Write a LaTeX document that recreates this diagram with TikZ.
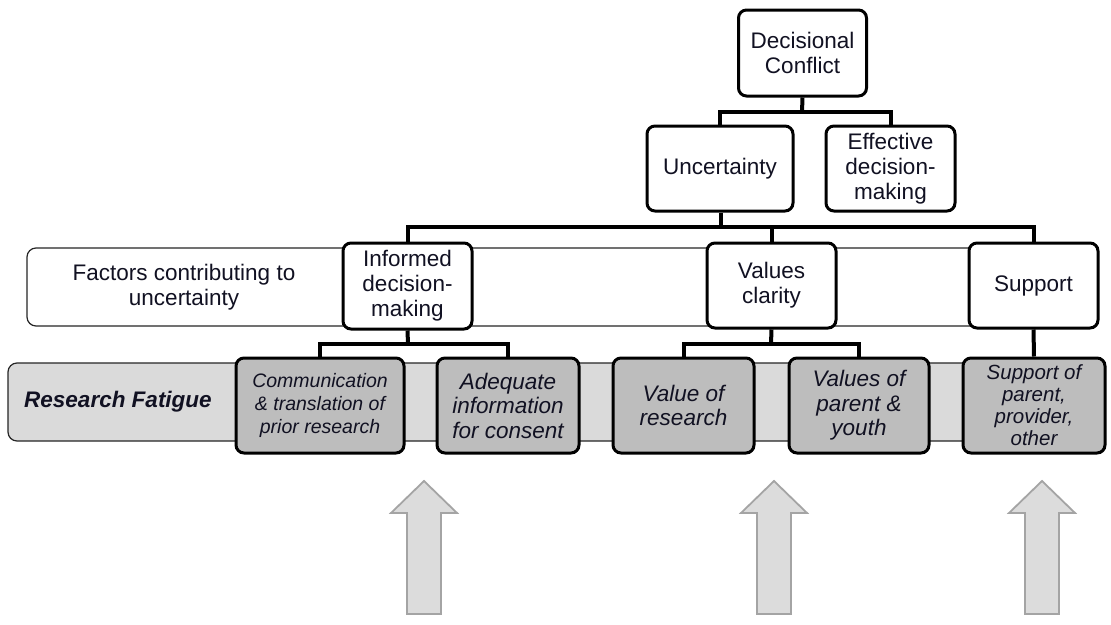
\documentclass[tikz,border=0pt]{standalone}
\usepackage{fontspec}
\setmainfont{Liberation Sans}
\definecolor{boxgrey}{HTML}{BDBDBD}
\definecolor{bandgrey}{HTML}{DADADA}
\definecolor{arrowfill}{HTML}{DCDCDC}
\definecolor{arrowline}{HTML}{A4A4A4}
\definecolor{txt}{HTML}{111122}
\tikzset{
  x=1pt, y=-1pt,
  base/.style={rounded corners=8pt, line width=3pt, draw=black, align=center, inner sep=2pt, text=txt,
    font=\fontsize{22.5}{25}\selectfont},
  whitebox/.style={base, fill=white},
  greybox/.style={base, fill=boxgrey, font=\fontsize{22.5}{24.5}\selectfont\itshape},
  conn/.style={line width=4pt, draw=black},
  band/.style={rounded corners=9pt, line width=1.2pt},
  bigarrow/.style={fill=arrowfill, draw=arrowline, line width=1.8pt, line join=miter}
}
\begin{document}
\begin{tikzpicture}
\useasboundingbox (0,0) rectangle (1111,624);
\fill[white] (0,0) rectangle (1111,624);

% bands
\draw[band, draw=black!85, fill=white] (27,248) rectangle (1040,326);
\draw[band, draw=black!85, fill=bandgrey] (8,363) rectangle (1040,441);
\node[text=txt, align=center, font=\fontsize{22.5}{25}\selectfont] (factors) at (184,287) {Factors contributing to\\uncertainty};
\node[text=txt, font=\fontsize{22.5}{25}\selectfont\bfseries\itshape] (rf) at (118,402) {Research Fatigue};

% junction coordinates
\coordinate (j1) at (802,112);
\coordinate (j2) at (721,227);
\coordinate (j3) at (408,344);
\coordinate (j4) at (771,344);

% white boxes
\node[whitebox, minimum width=128pt, minimum height=86pt] (dc) at (802.5,53) {Decisional\\Conflict};
\node[whitebox, minimum width=146pt, minimum height=85pt] (unc) at (720,168.5) {Uncertainty};
\node[whitebox, minimum width=129pt, minimum height=85pt] (eff) at (890.5,168.5) {Effective\\decision-\\making};
\node[whitebox, minimum width=129pt, minimum height=86pt] (inf) at (407.5,286) {Informed\\decision-\\making};
\node[whitebox, minimum width=129pt, minimum height=85pt] (val) at (771.5,285.5) {Values\\clarity};
\node[whitebox, minimum width=129pt, minimum height=85pt] (sup) at (1033.5,285.5) {Support};

% grey boxes
\node[greybox, minimum width=168pt, minimum height=95pt, font=\fontsize{19.5}{23}\selectfont\itshape] (com) at (320,405.5) {Communication\\\&~translation of\\prior research};
\node[greybox, minimum width=142pt, minimum height=95pt] (adq) at (508,405.5) {Adequate\\information\\for consent};
\node[greybox, minimum width=141pt, minimum height=95pt] (vor) at (683.5,405.5) {Value of\\research};
\node[greybox, minimum width=140pt, minimum height=95pt] (vop) at (859,405.5) {Values of\\parent \&\\youth};
\node[greybox, minimum width=142pt, minimum height=95pt, font=\fontsize{20.5}{22}\selectfont\itshape] (sop) at (1034,405.5) {Support of\\parent,\\provider,\\other};

% connectors
\draw[conn] (dc.south) -- (j1);
\draw[conn] (unc.north) |- (j1) -| (eff.north);
\draw[conn] (unc.south -| j2) -- (j2);
\draw[conn] (inf.north) |- (j2) -| (sup.north);
\draw[conn] (val.north) -- (val.north |- j2);
\draw[conn] (inf.south) -- (j3);
\draw[conn] (com.north) |- (j3) -| (adq.north);
\draw[conn] (val.south) -- (j4);
\draw[conn] (vor.north) |- (j4) -| (vop.north);
\draw[conn] (sup.south) -- (sop.north);

% block arrows
\foreach \c in {424,774,1042}{
  \draw[bigarrow] (\c,481) -- (\c+33,513) -- (\c+17,513) -- (\c+17,614)
    -- (\c-17,614) -- (\c-17,513) -- (\c-33,513) -- cycle;
}
\end{tikzpicture}
\end{document}
